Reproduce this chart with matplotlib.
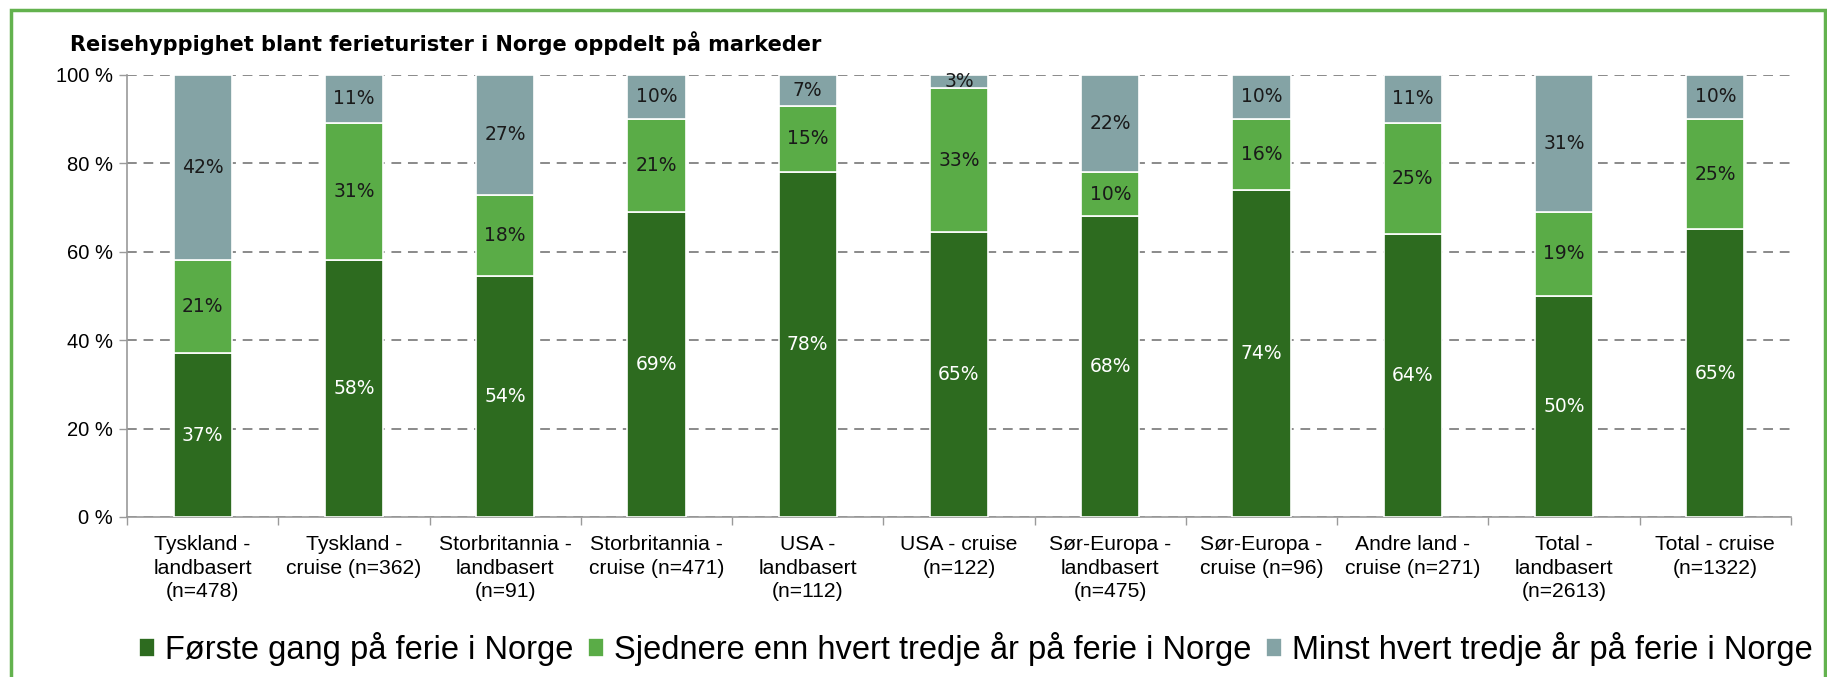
import matplotlib
matplotlib.use("Agg")
import matplotlib.pyplot as plt
import numpy as np
from matplotlib.patches import Rectangle

categories = [
    "Tyskland -\nlandbasert\n(n=478)",
    "Tyskland -\ncruise (n=362)",
    "Storbritannia -\nlandbasert\n(n=91)",
    "Storbritannia -\ncruise (n=471)",
    "USA -\nlandbasert\n(n=112)",
    "USA - cruise\n(n=122)",
    "Sør-Europa -\nlandbasert\n(n=475)",
    "Sør-Europa -\ncruise (n=96)",
    "Andre land -\ncruise (n=271)",
    "Total -\nlandbasert\n(n=2613)",
    "Total - cruise\n(n=1322)",
]
forste_gang = [37, 58, 54, 69, 78, 65, 68, 74, 64, 50, 65]
sjeldnere = [21, 31, 18, 21, 15, 33, 10, 16, 25, 19, 25]
minst = [42, 11, 27, 10, 7, 3, 22, 10, 11, 31, 10]
series_names = [
    "Første gang på ferie i Norge",
    "Sjednere enn hvert tredje år på ferie i Norge",
    "Minst hvert tredje år på ferie i Norge",
]
yticks = [0, 20, 40, 60, 80, 100]
ytick_labels = ["0 %", "20 %", "40 %", "60 %", "80 %", "100 %"]
title = "Reisehyppighet blant ferieturister i Norge oppdelt på markeder"

colors = ["#2D6B1F", "#5AAC47", "#84A3A5"]
label_colors = ["white", "#1a1a1a", "#1a1a1a"]

W, H = 1827, 677
fig = plt.figure(figsize=(W / 100, H / 100), dpi=100)
ax = fig.add_axes([127 / W, 1 - 517 / H, (1791 - 127) / W, (517 - 74.6) / H])

data = np.array([forste_gang, sjeldnere, minst], dtype=float)
totals = data.sum(axis=0)
pct = data / totals * 100
x = np.arange(len(categories))
bw = 0.385
bottom = np.zeros(len(categories))
for i in range(3):
    ax.bar(x, pct[i], bw, bottom=bottom, color=colors[i], edgecolor="white",
           linewidth=1.2, label=series_names[i], zorder=3)
    for j in range(len(categories)):
        ax.text(x[j], bottom[j] + pct[i][j] / 2, f"{int(data[i][j])}%",
                ha="center", va="center", fontsize=13.5, color=label_colors[i],
                family="DejaVu Sans", zorder=4)
    bottom += pct[i]

ax.set_xlim(-0.5, len(categories) - 0.5)
ax.set_ylim(0, 100)
ax.set_yticks(yticks)
ax.set_yticklabels(ytick_labels, fontsize=14.5, family="Liberation Sans")
ax.yaxis.grid(True, linestyle=(0, (5, 3.5)), color="#8a8a8a", linewidth=1.4, zorder=0)
ax.set_axisbelow(True)
ax.set_xticks(x)
ax.set_xticklabels(categories, fontsize=15.2, family="Liberation Sans", linespacing=1.3)
ax.tick_params(axis="x", length=0, pad=13)
ax.set_xticks(np.arange(-0.5, len(categories)), minor=True)
ax.tick_params(axis="x", which="minor", length=6, color="#9a9a9a", width=1)
ax.tick_params(axis="y", length=6, color="#9a9a9a", width=1, pad=4)
for s in ["top", "right"]:
    ax.spines[s].set_visible(False)
for s in ["left", "bottom"]:
    ax.spines[s].set_color("#9a9a9a")
    ax.spines[s].set_linewidth(1.2)

fig.text(70 / W, 1 - 43 / H, title, fontsize=15, fontweight="bold",
         family="DejaVu Sans", va="center", ha="left")

leg = fig.legend(loc="center", bbox_to_anchor=(0.534, 1 - 649 / H), ncol=3,
                 frameon=False, prop={"family": "Liberation Sans", "size": 23.5},
                 handlelength=0.5, handleheight=0.5, handletextpad=0.3,
                 columnspacing=0.45)

fig.patches.append(Rectangle((11 / W, -0.05), (1825 - 11) / W, 1.05 - 9.5 / H,
                             transform=fig.transFigure, fill=False,
                             edgecolor="#63B24E", linewidth=2.5))

fig.savefig("out.png", dpi=100)
